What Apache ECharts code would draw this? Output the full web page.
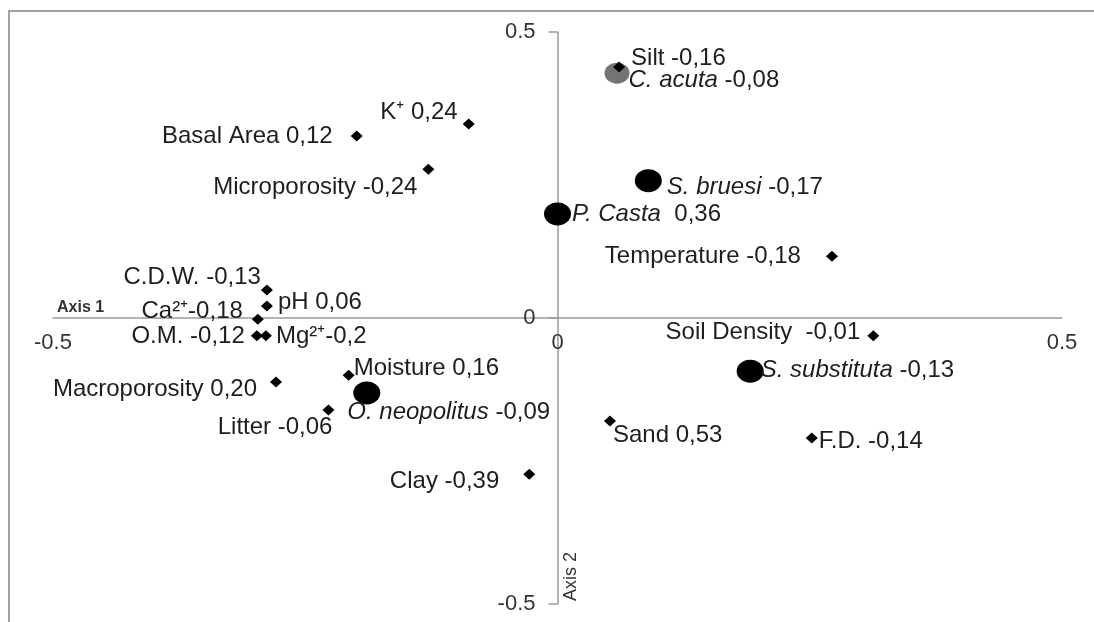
<!DOCTYPE html>
<html lang="en">
<head>
  <meta charset="utf-8">
  <title>Ordination - Axis 1 / Axis 2</title>
  <script src="https://cdn.jsdelivr.net/npm/echarts@6/dist/echarts.min.js"></script>
  <style>
    html, body { margin: 0; padding: 0; background: #fff; }
    #chart { width: 1094px; height: 622px; }
  </style>
</head>
<body>
<div id="chart"></div>

<script>
// environmental variables (diamonds)
var envNames = ['Silt', 'K⁺', 'Basal Area', 'Microporosity', 'Temperature', 'C.D.W.', 'pH', 'Ca²⁺',
  'O.M.', 'Mg²⁺', 'Moisture', 'Macroporosity', 'Litter', 'Soil Density', 'Sand', 'F.D.', 'Clay'];
var envLabels = ['Silt -0,16', 'K⁺ 0,24', 'Basal Area 0,12', 'Microporosity -0,24', 'Temperature -0,18',
  'C.D.W. -0,13', 'pH 0,06', 'Ca²⁺-0,18', 'O.M. -0,12', 'Mg²⁺-0,2', 'Moisture 0,16',
  'Macroporosity 0,20', 'Litter -0,06', 'Soil Density  -0,01', 'Sand 0,53', 'F.D. -0,14', 'Clay -0,39'];
var envAxis1 = [0.061, -0.088, -0.199, -0.128, 0.272, -0.288, -0.288, -0.297,
  -0.298, -0.289, -0.207, -0.279, -0.227, 0.313, 0.052, 0.252, -0.028];
var envAxis2 = [0.439, 0.339, 0.318, 0.260, 0.108, 0.049, 0.021, -0.002,
  -0.031, -0.031, -0.100, -0.112, -0.161, -0.031, -0.180, -0.210, -0.273];

// species (circles), names in italics
var spNames = ['C. acuta', 'S. bruesi', 'P. Casta', 'O. neopolitus', 'S. substituta'];
var spScores = ['-0,08', '-0,17', ' 0,36', '-0,09', '-0,13'];
var spAxis1 = [0.059, 0.090, 0.000, -0.189, 0.191];
var spAxis2 = [0.428, 0.240, 0.182, -0.131, -0.093];

var axisTicks = [-0.5, 0, 0.5];

// where each label sits relative to its marker: [side, dx, dy]
var labelPlace = {
  'Silt': ['right', 1, -9],
  'K⁺': ['left', 0, -12],
  'Basal Area': ['left', -13, 0],
  'Microporosity': ['left', 0, 18],
  'Temperature': ['left', -20, 0],
  'C.D.W.': ['left', 5, -13],
  'pH': ['right', 0, -4],
  'Ca²⁺': ['left', -4, -8],
  'O.M.': ['left', -1, 1],
  'Mg²⁺': ['right', -1, 1],
  'Moisture': ['right', -6, -7],
  'Macroporosity': ['left', -8, 7],
  'Litter': ['left', 15, 17],
  'Soil Density': ['left', -2, -3],
  'Sand': ['right', -8, 14],
  'F.D.': ['right', -4, 3],
  'Clay': ['left', -19, 7],
  'C. acuta': ['right', -6, 7],
  'S. bruesi': ['right', 0, 7],
  'P. Casta': ['right', -4, 0],
  'O. neopolitus': ['right', -38, 19],
  'S. substituta': ['right', -8, -1]
};

var FONT = '"Liberation Sans", Arial, sans-serif';
var TXT = '#1e1e1e';
var AXC = '#9a9a9a';

// grid box; the axes are shifted inside it so they cross at 0
var G = { left: 53, right: 32, top: 32, bottom: 18 };
var W = 1094, H = 622;
var plotW = W - G.left - G.right, plotH = H - G.top - G.bottom;

function pointList(names, xs, ys, texts) {
  return names.map(function (n, i) {
    var p = labelPlace[n];
    return {
      name: n,
      value: [xs[i], ys[i]],
      label: { position: p[0], offset: [p[1], p[2]], formatter: texts[i] }
    };
  });
}

var spTexts = spNames.map(function (n, i) { return '{i|' + n + '} ' + spScores[i]; });
var spData = pointList(spNames, spAxis1, spAxis2, spTexts);
spData[0].itemStyle = { color: '#747474' };
spData[0].symbolSize = [25, 21];

var chart = echarts.init(document.getElementById('chart'));

var option = {
  animation: false,
  backgroundColor: '#fff',
  textStyle: { fontFamily: FONT },
  grid: { left: G.left, right: G.right, top: G.top, bottom: G.bottom,
    containLabel: false, outerBoundsMode: 'none' },
  graphic: [{
    type: 'rect',
    shape: { x: 9, y: 11, width: 1200, height: 800 },
    style: { fill: 'none', stroke: '#a0a0a0', lineWidth: 2 },
    silent: true
  }],
  xAxis: {
    type: 'value',
    min: axisTicks[0], max: axisTicks[2], interval: 0.5,
    position: 'bottom',
    offset: -plotH / 2,
    name: 'Axis 1',
    nameLocation: 'start',
    nameGap: -4,
    nameTextStyle: { align: 'left', verticalAlign: 'bottom', fontSize: 16, fontWeight: 'bold',
      color: '#333', fontFamily: FONT, padding: [0, 0, 2, 0] },
    axisLine: { onZero: false, lineStyle: { color: AXC, width: 1.5 } },
    axisTick: { show: false },
    axisLabel: { margin: 14, fontSize: 22, color: '#333', fontFamily: FONT },
    splitLine: { show: false }
  },
  yAxis: {
    type: 'value',
    min: axisTicks[0], max: axisTicks[2], interval: 0.5,
    position: 'left',
    offset: -plotW / 2,
    name: 'Axis 2',
    nameLocation: 'start',
    nameGap: -3,
    nameRotate: 90,
    nameTextStyle: { align: 'left', verticalAlign: 'top', fontSize: 18,
      color: '#333', fontFamily: FONT, padding: [5, 0, 0, 0] },
    axisLine: { onZero: false, lineStyle: { color: AXC, width: 1.5 } },
    axisTick: { show: true, length: 9, lineStyle: { color: AXC, width: 1.5 } },
    axisLabel: { margin: 22, fontSize: 22, color: '#333', fontFamily: FONT },
    splitLine: { show: false }
  },
  series: [
    {
      name: 'Species',
      type: 'scatter',
      symbol: 'circle',
      symbolSize: [27, 23],
      itemStyle: { color: '#000', opacity: 1 },
      label: {
        show: true, fontSize: 24, color: TXT, fontFamily: FONT,
        rich: { i: { fontStyle: 'italic', fontSize: 24, color: TXT, fontFamily: FONT } }
      },
      data: spData
    },
    {
      name: 'Variables',
      type: 'scatter',
      symbol: 'diamond',
      symbolSize: [12, 11],
      itemStyle: { color: '#000', opacity: 1 },
      label: { show: true, fontSize: 24, color: TXT, fontFamily: FONT },
      data: pointList(envNames, envAxis1, envAxis2, envLabels)
    }
  ]
};

chart.setOption(option);
</script>
</body>
</html>
